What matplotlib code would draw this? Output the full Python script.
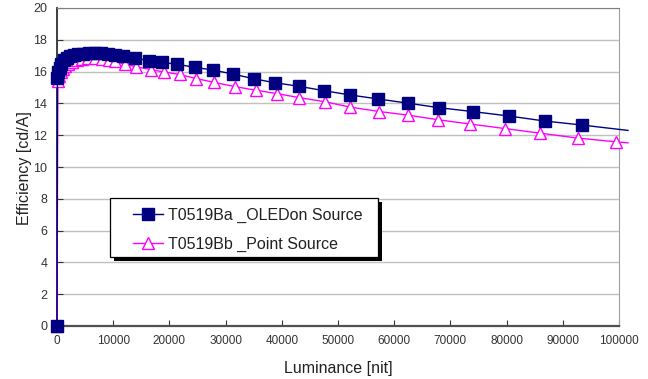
import matplotlib
matplotlib.use("Agg")
import matplotlib.pyplot as plt
from matplotlib.patches import Rectangle

plt.rcParams['font.family'] = ['Liberation Sans', 'DejaVu Sans']

# ---- data ----
lum_a = [0, 80, 250, 500, 800, 1200, 1700, 2300, 3000, 3800, 4700, 5700, 6800,
         7900, 9100, 10400, 11800, 13900, 16400, 18750, 21400, 24500, 27700,
         31250, 35000, 38750, 43000, 47500, 52150, 57150, 62500, 68000, 74100,
         80350, 86800, 93400, 101600]
eff_a = [0, 15.6, 15.95, 16.25, 16.5, 16.7, 16.85, 16.97, 17.05, 17.1, 17.13,
         17.15, 17.15, 17.14, 17.11, 17.06, 16.98, 16.84, 16.69, 16.58, 16.46,
         16.27, 16.10, 15.85, 15.55, 15.30, 15.08, 14.80, 14.53, 14.28, 14.01,
         13.73, 13.48, 13.21, 12.89, 12.64, 12.30]

lum_b = [0, 150, 400, 700, 1050, 1450, 2000, 2700, 3500, 4500, 5600, 6800, 8000,
         9200, 10400, 12150, 14100, 16800, 19100, 21800, 24800, 28000, 31600,
         35350, 39100, 43000, 47700, 52150, 57300, 62500, 67850, 73550, 79650,
         85900, 92650, 99550, 101600]
eff_b = [0, 15.4, 15.7, 15.95, 16.15, 16.35, 16.5, 16.63, 16.73, 16.8, 16.83,
         16.83, 16.8, 16.74, 16.65, 16.45, 16.3, 16.12, 15.97, 15.82, 15.56,
         15.32, 15.06, 14.83, 14.62, 14.37, 14.10, 13.77, 13.49, 13.26, 12.97,
         12.70, 12.42, 12.13, 11.82, 11.58, 11.52]

label_a = "T0519Ba _OLEDon Source"
label_b = "T0519Bb _Point Source"

x_ticks = list(range(0, 100001, 10000))
y_ticks = list(range(0, 21, 2))

W, H = 648, 379

# ---- figure ----
fig = plt.figure(figsize=(6.48, 3.79), dpi=100)
ax = fig.add_axes([57 / W, 1 - 326 / H, 562 / W, 318 / H])

ax.plot(lum_a, eff_a, color='#000080', lw=1.0, marker='s', ms=8.5,
        mfc='#000080', mec='#000080', markevery=slice(0, -1),
        clip_on=False, zorder=4, label=label_a)
ax.plot(lum_b, eff_b, color='#ff00ff', lw=1.0, marker='^', ms=8,
        mfc='white', mec='#ff00ff', mew=1.0, markevery=slice(0, -1),
        clip_on=False, zorder=3, label=label_b)

ax.set_xlim(0, 100000)
ax.set_ylim(0, 20)
ax.set_xticks(x_ticks)
ax.set_xticklabels([str(v) for v in x_ticks])
ax.set_yticks(y_ticks)
ax.grid(axis='y', color='#c0c0c0', lw=1.0)
ax.set_axisbelow(True)

ax.tick_params(axis='both', direction='in', length=4, colors='#333333')
ax.tick_params(axis='x', labelsize=8.5, pad=6.5)
ax.tick_params(axis='y', labelsize=9, pad=7)

ax.spines['left'].set_color('#303030')
ax.spines['left'].set_linewidth(1.3)
ax.spines['bottom'].set_color('#505050')
ax.spines['bottom'].set_linewidth(1.6)
ax.spines['top'].set_color('#808080')
ax.spines['right'].set_color('#a0a0a0')

ax.set_xlabel("Luminance [nit]", fontsize=11.5, color='#222222')
ax.set_ylabel("Efficiency [cd/A]", fontsize=11.5, color='#222222')
ax.xaxis.set_label_coords(0.5, -0.11)
ax.yaxis.set_label_coords(-0.045, 0.497)

# legend box with a solid black drop shadow (pixel box from the reference)
bx0, by0, bx1, by1 = 110, 198, 378, 257
bw, bh = (bx1 - bx0) / W, (by1 - by0) / H
shadow = Rectangle(((bx0 + 4) / W, (H - by1 - 4) / H), bw, bh,
                   transform=fig.transFigure, facecolor='black',
                   edgecolor='none', clip_on=False, zorder=9)
frame = Rectangle((bx0 / W, (H - by1) / H), bw, bh,
                  transform=fig.transFigure, facecolor='white',
                  edgecolor='black', lw=0.9, clip_on=False, zorder=10)
ax.add_artist(shadow)
ax.add_artist(frame)

leg = ax.legend(loc='upper left', bbox_to_anchor=(133 / W, 1 - 208 / H),
                bbox_transform=fig.transFigure, fontsize=11.5, frameon=False,
                handlelength=1.9, handletextpad=0.3, borderpad=0,
                labelspacing=0.85, borderaxespad=0)
leg.set_zorder(11)
for t in leg.get_texts():
    t.set_color('#222222')

fig.savefig("out.png", dpi=100)
